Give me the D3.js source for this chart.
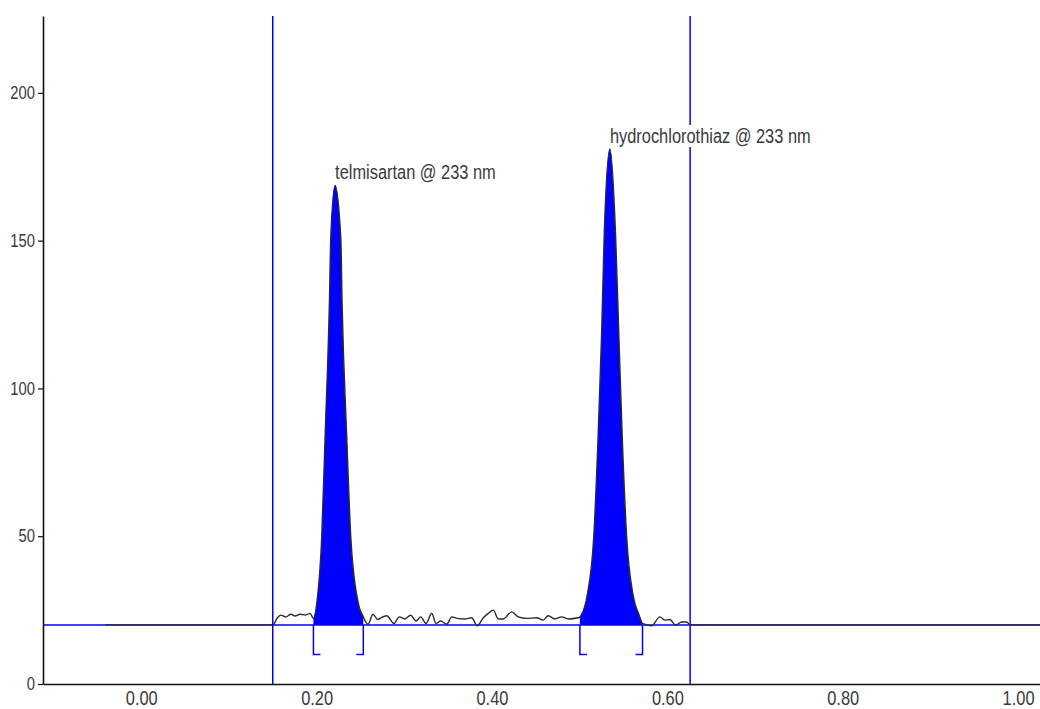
<!DOCTYPE html>
<meta charset="utf-8">
<body style="margin:0;background:#fff">
<div id="chart"></div>
<script src="https://d3js.org/d3.v7.min.js"></script>
<script>
// densitogram, values
var traceTime = [-0.041, 0.150, 0.1556, 0.1594, 0.1652, 0.1706, 0.1755, 0.1812, 0.1869, 0.1926,
  0.1964, 0.2002, 0.2059, 0.2097, 0.2146, 0.2162, 0.2211, 0.2276, 0.2291, 0.2344, 0.2390, 0.2476, 0.2533,
  0.2586, 0.2643, 0.2700, 0.2724, 0.2800, 0.2883, 0.2943, 0.3008, 0.3073, 0.3134, 0.3187, 0.3248,
  0.3313, 0.3362, 0.3416, 0.3484, 0.3541, 0.3605, 0.3692, 0.3769, 0.3832, 0.3901, 0.3958, 0.4015,
  0.4072, 0.4129, 0.4225, 0.4300, 0.4396, 0.4510, 0.4585, 0.4642, 0.4718, 0.4795, 0.4870, 0.4984,
  0.5003, 0.5022, 0.5086, 0.5162, 0.5211, 0.5250, 0.5280, 0.5345, 0.5410, 0.5447, 0.5485, 0.5535, 0.5610, 0.5679, 0.5717,
  0.5820, 0.5915, 0.5972, 0.6028, 0.6097, 0.6162, 0.6219, 0.626, 1.025];
var traceValue = [20, 20, 22.5, 23.3, 22.7, 23.6, 23.0, 23.6, 23.3, 23.9,
  22.2, 27.3, 49.8, 83.5, 128.7, 151, 168.7, 151, 128.7, 83.5, 49.8, 27.3, 22.7,
  20.2, 23.5, 21.8, 22.2, 23.1, 20.5, 22.7, 22.0, 23.3, 21.3, 22.7, 20.5,
  23.9, 20.5, 21.3, 20.2, 22.7, 22.2, 22.0, 22.4, 19.7, 22.4, 23.9, 25.0,
  22.0, 22.0, 24.4, 22.7, 22.2, 22.4, 21.6, 23.1, 22.0, 22.7, 22.0, 22.4,
  22.7, 23.5, 30, 50.3, 84.1, 117.9, 151.7, 181, 151.7, 117.9, 84.1, 50.3, 30, 23.3, 20.5,
  19.7, 22.7, 21.6, 21.8, 19.9, 21.0, 21.0, 20, 20];

var peakNames = ["telmisartan @ 233 nm", "hydrochlorothiaz @ 233 nm"];
var peakApexTime = [0.2211, 0.5345];
var peakApexValue = [168.7, 181];
var peakStart = [0.1964, 0.5003];
var peakEnd = [0.2533, 0.5717];

var trackWindow = [0.150, 0.626];
var baselineValue = 20;
var bracketValue = 10;

var xTicks = [0, 0.2, 0.4, 0.6, 0.8, 1.0];
var yTicks = [0, 50, 100, 150, 200];

var w = 1040, h = 709;
var blue = "#0000ff";
var textCol = "#3a3a3a";
var fontFam = "'Liberation Sans', Arial, sans-serif";
var squeeze = 0.82;   // no narrow face installed, so squeeze the glyphs

var svg = d3.select("#chart").append("svg")
    .attr("width", w)
    .attr("height", h)
    .style("display", "block");

var x = d3.scaleLinear().domain([-0.112, 1.025]).range([43, 1040]);
var y = d3.scaleLinear().domain([0, 226]).range([684, 16]);

var pts = traceTime.map(function(t, i) { return {t: t, v: traceValue[i]}; });

function narrow(sel) {
    sel.each(function() {
        var len = this.getComputedTextLength();
        d3.select(this)
            .attr("textLength", len * squeeze)
            .attr("lengthAdjust", "spacingAndGlyphs");
    });
}

// baseline
svg.append("line")
    .attr("x1", x(-0.112)).attr("x2", x(1.025))
    .attr("y1", y(baselineValue)).attr("y2", y(baselineValue))
    .attr("stroke", blue)
    .attr("stroke-width", 1.5);

// peak areas
var area = d3.area()
    .curve(d3.curveMonotoneX)
    .x(function(d) { return x(d.t); })
    .y0(y(baselineValue))
    .y1(function(d) { return y(d.v); });

peakNames.forEach(function(name, i) {
    var sub = pts.filter(function(d) { return d.t >= peakStart[i] - 1e-6 && d.t <= peakEnd[i] + 1e-6; });
    svg.append("path")
        .datum(sub)
        .attr("d", area)
        .attr("fill", blue);

    // integration brackets
    var x0 = x(peakStart[i]), x1 = x(peakEnd[i]);
    var yb = y(baselineValue), yk = y(bracketValue);
    svg.append("path")
        .attr("d", "M" + x0 + "," + yb + "V" + yk + "H" + (x0 + 7))
        .attr("fill", "none").attr("stroke", blue).attr("stroke-width", 1.5);
    svg.append("path")
        .attr("d", "M" + x1 + "," + yb + "V" + yk + "H" + (x1 - 7))
        .attr("fill", "none").attr("stroke", blue).attr("stroke-width", 1.5);
});

// track window lines
svg.selectAll(".win")
    .data(trackWindow)
    .enter()
    .append("line")
    .attr("class", "win")
    .attr("x1", function(d) { return x(d); })
    .attr("x2", function(d) { return x(d); })
    .attr("y1", y(226))
    .attr("y2", y(0))
    .attr("stroke", blue)
    .attr("stroke-width", 1.5);

// trace
var line = d3.line()
    .curve(d3.curveMonotoneX)
    .x(function(d) { return x(d.t); })
    .y(function(d) { return y(d.v); });

svg.append("path")
    .datum(pts)
    .attr("d", line)
    .attr("fill", "none")
    .attr("stroke", "#2a2a2a")
    .attr("stroke-width", 1.4)
    .attr("stroke-linejoin", "round");

// axes
var yAxis = svg.append("g")
    .attr("transform", "translate(43,0)")
    .call(d3.axisLeft(y).tickValues(yTicks).tickSize(5).tickSizeOuter(0).tickPadding(3));

var xAxis = svg.append("g")
    .attr("transform", "translate(0,684)")
    .call(d3.axisBottom(x).tickValues(xTicks).tickSize(0).tickSizeOuter(0).tickPadding(7)
        .tickFormat(d3.format(".2f")));

[yAxis, xAxis].forEach(function(g, k) {
    g.select(".domain").attr("stroke", "#111").attr("stroke-width", 1.6);
    g.selectAll(".tick line").attr("stroke", "#111").attr("stroke-width", 1.2);
    g.selectAll(".tick text")
        .attr("fill", textCol)
        .style("font-family", fontFam)
        .style("font-size", k === 0 ? "18px" : "20px")
        .call(narrow);
});

// peak labels with white backing
peakNames.forEach(function(name, i) {
    var g = svg.append("g");
    var bg = g.append("rect").attr("fill", "#fff");
    var t = g.append("text")
        .text(name)
        .attr("x", x(peakApexTime[i]))
        .attr("y", y(peakApexValue[i]) - 6)
        .attr("fill", textCol)
        .style("font-family", fontFam)
        .style("font-size", "20px")
        .call(narrow);
    var b = t.node().getBBox();
    bg.attr("x", b.x).attr("y", b.y).attr("width", b.width).attr("height", b.height);
});
</script>
